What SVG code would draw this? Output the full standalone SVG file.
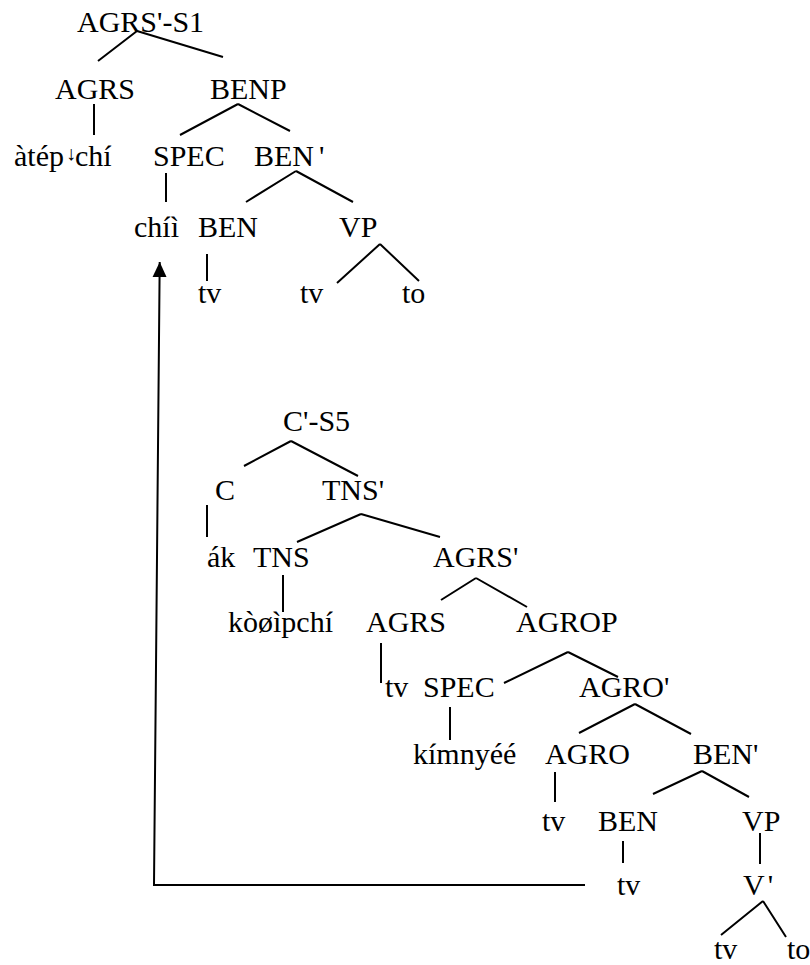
<svg xmlns="http://www.w3.org/2000/svg" width="810" height="965" viewBox="0 0 810 965">
<style>
.e{stroke:#000;stroke-width:2;fill:none}
</style>
<defs>
<marker id="ah" markerUnits="userSpaceOnUse" markerWidth="16" markerHeight="16" viewBox="0 0 16 16" refX="15" refY="8" orient="auto">
<path d="M0,1 L15,8 L0,15 Z" fill="#000"/>
</marker>
</defs>
<rect width="810" height="965" fill="#fff"/>
<g font-family="'Liberation Serif', 'Times New Roman', serif" font-size="30" fill="#000">
<g id="tree1">
<g id="n-agrs1-s1"><text x="77" y="32">AGRS'-S1</text></g>
<g id="n-agrs-1"><text x="55" y="99">AGRS</text></g>
<g id="n-benp-1"><text x="210" y="99">BENP</text></g>
<g id="n-atep"><text x="14" y="166">àtép<tspan font-size="20" dx="2" dy="-6">↓</tspan><tspan x="75" dy="6">chí</tspan></text></g>
<g id="n-spec-1"><text x="153" y="166">SPEC</text></g>
<g id="n-ben1-1"><text x="254" y="166">BEN<tspan dx="5">'</tspan></text></g>
<g id="n-chii"><text x="134" y="237">chíì</text></g>
<g id="n-ben-1"><text x="198" y="237">BEN</text></g>
<g id="n-vp-1"><text x="339" y="237">VP</text></g>
<g id="n-tv-1a"><text x="198" y="303">tv</text></g>
<g id="n-tv-1b"><text x="300" y="303">tv</text></g>
<g id="n-to-1"><text x="402" y="303">to</text></g>
</g>
<g id="tree2">
<g id="n-c1-s5"><text x="283" y="431">C'-S5</text></g>
<g id="n-c"><text x="215" y="500">C</text></g>
<g id="n-tns1"><text x="322" y="500">TNS'</text></g>
<g id="n-ak"><text x="207" y="567">ák</text></g>
<g id="n-tns"><text x="253" y="567">TNS</text></g>
<g id="n-agrs1-2"><text x="433" y="567">AGRS'</text></g>
<g id="n-kooipchi"><text x="228" y="632">kòøìpchí</text></g>
<g id="n-agrs-2"><text x="366" y="632">AGRS</text></g>
<g id="n-agrop"><text x="516" y="632">AGROP</text></g>
<g id="n-tv-2a"><text x="385" y="697">tv</text></g>
<g id="n-spec-2"><text x="423" y="697">SPEC</text></g>
<g id="n-agro1"><text x="579" y="697">AGRO'</text></g>
<g id="n-kimnyee"><text x="413" y="764">kímnyéé</text></g>
<g id="n-agro"><text x="545" y="764">AGRO</text></g>
<g id="n-ben1-2"><text x="693" y="764">BEN'</text></g>
<g id="n-tv-2b"><text x="542" y="831">tv</text></g>
<g id="n-ben-2"><text x="598" y="831">BEN</text></g>
<g id="n-vp-2"><text x="742" y="831">VP</text></g>
<g id="n-tv-2c"><text x="617" y="895">tv</text></g>
<g id="n-v1"><text x="743" y="895">V<tspan dx="3">'</tspan></text></g>
<g id="n-tv-2d"><text x="714" y="959">tv</text></g>
<g id="n-to-2"><text x="787" y="959">to</text></g>
</g>
</g>
<g id="connectors" class="e">
<path d="M137,31 L98,61 M137,31 L223,57"/>
<path d="M94,104 V135"/>
<path d="M238,104 L180,135 M238,104 L290,131"/>
<path d="M166,173 V202"/>
<path d="M296,171 L246,202 M296,171 L353,202"/>
<path d="M207,254 V281"/>
<path d="M380,244 L337,283 M380,244 L419,281"/>
<path d="M291,441 L244,466 M291,441 L358,476"/>
<path d="M207,505 V537"/>
<path d="M361,514 L297,542 M361,514 L440,537"/>
<path d="M476,578 L441,600 M476,578 L527,607"/>
<path d="M283,575 V612"/>
<path d="M381,643 V683"/>
<path d="M568,652 L504,683 M568,652 L618,677"/>
<path d="M450,707 V740"/>
<path d="M635,704 L579,733 M635,704 L691,734"/>
<path d="M555,772 V802"/>
<path d="M702,771 L653,794 M702,771 L749,797"/>
<path d="M623,841 V863"/>
<path d="M760,833 V864"/>
<path d="M763,901 L721,935 M763,901 L786,937"/>
<path id="movement" d="M585,885 H154 L159.7,262" marker-end="url(#ah)"/>
</g>
</svg>
